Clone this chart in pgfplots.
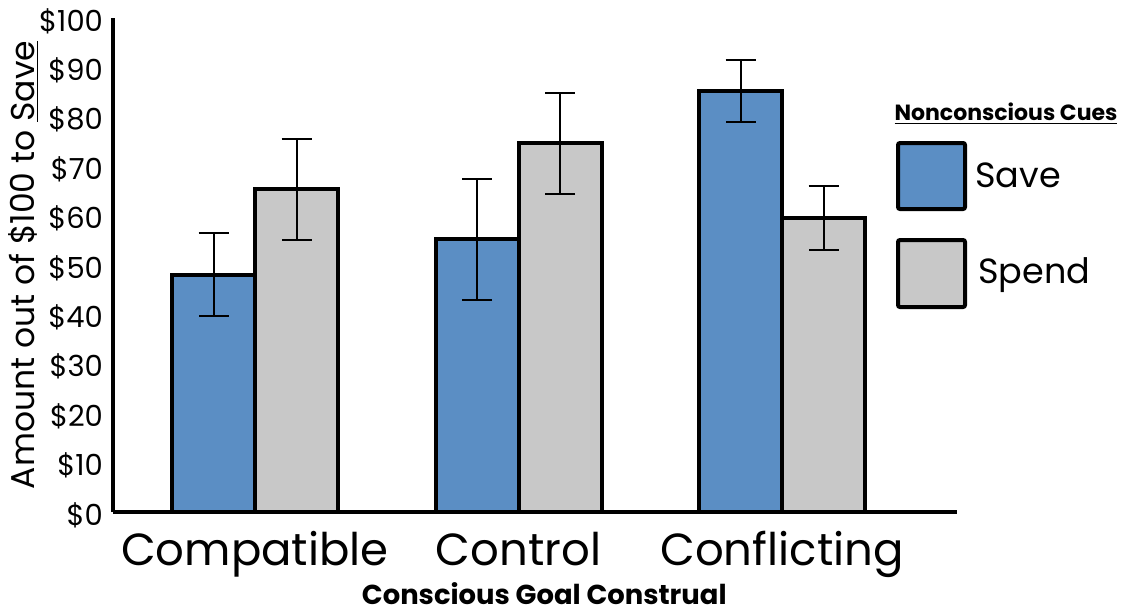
\documentclass[border=0pt]{standalone}
\usepackage{fontspec}
\setmainfont{Poppins}
\usepackage{pgfplots}
\pgfplotsset{compat=1.18}
\definecolor{saveblue}{RGB}{91,142,196}
\definecolor{spendgray}{RGB}{200,200,200}
\begin{document}
\begin{tikzpicture}
\useasboundingbox (0pt,0pt) rectangle (565.5pt,-308pt);
\begin{axis}[
  at={(56.5pt,-256pt)}, anchor=south west,
  scale only axis, width=422pt, height=247pt,
  xmin=-0.539, xmax=2.664, ymin=0, ymax=100,
  axis x line=bottom, axis y line=left,
  axis line style={-, line width=2pt, black},
  major tick length=0pt,
  xtick={0,1,2}, xticklabels={Compatible,Control,Conflicting},
  ytick={0,10,...,100},
  yticklabels={\$0,\$10,\$20,\$30,\$40,\$50,\$60,\$70,\$80,\$90,\$100},
  x tick label style={font=\fontsize{22.5}{27}\selectfont, anchor=base, yshift=-26.5pt},
  y tick label style={font=\fontsize{14.5}{17}\selectfont, xshift=-1.5pt, yshift=-1.5pt},
  ylabel={Amount out of \$100 to \underline{Save}},
  ylabel style={font=\fontsize{16.5}{20}\selectfont, at={(axis description cs:-0.106,0.5)}, anchor=center},
  xlabel={\textbf{Conscious Goal Construal}},
  xlabel style={font=\fontsize{13.7}{16}\selectfont, at={(axis description cs:0.511,-0.165)}, anchor=center},
  ybar=0pt, bar width=41.5pt,
  clip=false,
  every axis plot/.append style={line width=2pt, draw=black},
  error bars/error mark=|,
  error bars/error bar style={line width=1pt, black},
  error bars/error mark options={line width=1pt, black, mark size=7.5pt},
]
\addplot+[fill=saveblue, draw=black, error bars/.cd, y dir=both, y explicit]
  coordinates {(0,48) +- (0,8.4) (1,55.2) +- (0,12.2) (2,85.2) +- (0,6.3)};
\addplot+[fill=spendgray, draw=black, error bars/.cd, y dir=both, y explicit]
  coordinates {(0,65.3) +- (0,10.3) (1,74.6) +- (0,10.3) (2,59.5) +- (0,6.4)};
\end{axis}
\begin{scope}[x=0.5pt,y=-0.5pt]
\node[font=\fontsize{11}{13}\selectfont\bfseries] at (1006,114) {\underline{Nonconscious Cues}};
\draw[line width=2pt, fill=saveblue, rounded corners=1pt] (898,143) rectangle (965,209);
\node[anchor=base west, font=\fontsize{17.5}{21}\selectfont, inner sep=0pt] at (975,187) {Save};
\draw[line width=2pt, fill=spendgray, rounded corners=1pt] (898,240) rectangle (965,307);
\node[anchor=base west, font=\fontsize{17.5}{21}\selectfont, inner sep=0pt] at (978,283) {Spend};
\end{scope}
\end{tikzpicture}
\end{document}
